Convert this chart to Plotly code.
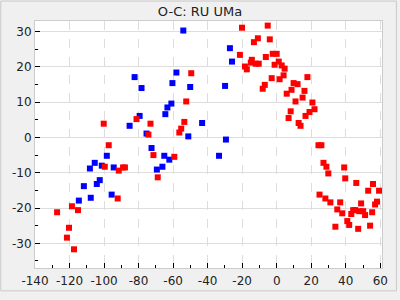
import plotly.graph_objects as go

blue_x = [-82.3, -78.3, -79.4, -85.2, -75.4, -72.5, -98.4, -105.4, -101.3, -108.2, -94.4, -69.4,
          -102.5, -104.2, -111.7, -107.7, -95.6, -114.6, -54.1, -27.1, -25.9, -58.1, -60.4, -50.1,
          -29.9, -61.0, -63.3, -64.5, -43.2, -51.2, -29.4, -65.1, -62.2, -33.4, -66.2]
blue_y = [17.1, 14.0, 6.1, 3.3, 1.1, -3.0, -5.2, -7.2, -8.0, -8.8, -8.5, -9.1,
          -12.1, -13.2, -13.8, -17.1, -16.2, -17.9, 30.3, 25.3, 21.5, 18.4, 15.4, 14.3,
          14.6, 9.6, 8.5, 6.6, 4.1, 0.3, -0.6, -5.2, -6.3, -5.2, -8.3]

red_x = [-81.2, -100.2, -73.1, -74.3, -97.3, -71.4, -99.6, -91.5, -89.0, -87.9, -68.9, -92.1,
         -118.6, -115.1, -127.2, -120.3, -121.5, -117.4, -20.1, -5.2, -10.9, -13.2, -4.0, -21.3,
         -14.4, -6.3, -2.3, 0.0, -15.0, -12.1, -10.4, -1.2, -18.4, -17.3, -49.5, -2.9,
         -6.9, -8.1, -52.4, -53.5, -55.3, -56.4, -59.3, 1.2, 2.9, 4.6, 4.0, 1.7,
         17.8, 9.8, 12.1, 8.6, 16.1, 5.8, 15.0, 10.9, 20.7, 21.9, 8.1, 19.0,
         16.7, 6.9, 12.7, 13.8, 24.2, 25.9, 27.1, 28.8, 39.1, 29.9, 39.7, 46.1,
         55.8, 53.0, 59.3, 24.8, 28.2, 31.1, 36.8, 48.9, 58.1, 57.0, 35.1, 44.3,
         45.5, 47.8, 50.1, 38.0, 43.2, 51.2, 55.3, 40.9, 42.0, 34.0, 54.1, 47.2]
red_y = [5.2, 3.9, 3.9, 0.8, -2.2, -5.0, -8.3, -9.4, -8.5, -8.5, -11.3, -17.3,
         -19.5, -20.6, -21.2, -25.6, -28.4, -31.7, 31.1, 31.7, 28.1, 27.0, 27.8, 23.4,
         22.0, 22.8, 23.7, 23.7, 21.2, 20.9, 20.9, 20.6, 20.1, 19.3, 18.2, 16.8,
         14.9, 13.8, 10.2, 4.4, 2.5, 1.4, -5.5, 21.5, 20.4, 19.5, 17.6, 16.5,
         17.1, 15.4, 15.1, 13.5, 13.2, 12.4, 11.3, 10.2, 9.9, 8.0, 7.4, 7.2,
         6.1, 5.5, 4.1, 3.3, -2.2, -2.2, -7.2, -8.3, -8.5, -10.2, -11.6, -12.9,
         -13.2, -15.1, -15.1, -16.2, -17.3, -18.4, -18.4, -18.7, -18.2, -19.0, -20.4, -20.6,
         -20.6, -20.9, -20.9, -21.5, -21.7, -22.0, -21.2, -23.7, -24.8, -25.3, -25.0, -25.9]

x_ticks = [-140, -120, -100, -80, -60, -40, -20, 0, 20, 40, 60]
x_tick_text = ["-140", "-120", "-100", "-80", "-60", "-40", "-20", "0", "20", "40", "60"]
y_ticks = [-30, -20, -10, 0, 10, 20, 30]
y_tick_text = ["-30", "-20", "-10", "0", "10", "20", "30"]
title_text = "O-C: RU UMa"

fig = go.Figure()
fig.add_trace(go.Scatter(x=blue_x, y=blue_y, mode="markers",
                         marker=dict(symbol="square", size=6, color="#0000ff", line=dict(width=0)),
                         showlegend=False, hoverinfo="skip"))
fig.add_trace(go.Scatter(x=red_x, y=red_y, mode="markers",
                         marker=dict(symbol="square", size=6, color="#ff0000", line=dict(width=0)),
                         showlegend=False, hoverinfo="skip"))

axis_common = dict(
    showline=True, linecolor="#cccccc", linewidth=1, mirror=True,
    ticks="inside", ticklen=5, tickwidth=1, tickcolor="black",
    gridcolor="#dddddd", gridwidth=1, zeroline=False,
    tickfont=dict(family="DejaVu Sans", size=12, color="#222222"),
)

fig.update_xaxes(range=[-140, 61], tickmode="array", tickvals=x_ticks, ticktext=x_tick_text,
                 griddash="dash", ticklabelstandoff=2,
                 minor=dict(dtick=10, tick0=0, ticks="inside", ticklen=3, tickcolor="black", showgrid=False),
                 **axis_common)
fig.update_yaxes(range=[-37, 33], tickmode="array", tickvals=y_ticks, ticktext=y_tick_text,
                 minor=dict(dtick=5, tick0=0, ticks="inside", ticklen=3, tickcolor="black", showgrid=False),
                 **axis_common)

# outer frame around whole chart (paper coords relative to plot area)
L, R, T, B = 35, 15, 21, 25
pw, ph = 400 - L - R, 300 - T - B
fig.add_shape(type="rect", xref="paper", yref="paper",
              x0=(0.5 - L) / pw, x1=(399.5 - L) / pw,
              y0=(300 - B - 298.5) / ph, y1=(300 - B - 0.5) / ph,
              line=dict(color="#c8c8c8", width=1), layer="below")

fig.update_layout(
    width=400, height=300,
    margin=dict(l=L, r=R, t=T, b=B),
    paper_bgcolor="#f0f0f0", plot_bgcolor="white",
    title=dict(text=title_text, x=0.5, xref="container", y=1 - 11 / 300, yanchor="middle",
               font=dict(family="DejaVu Sans", size=13, color="#222222")),
)

fig.write_html("out.html", config={"displayModeBar": False})
